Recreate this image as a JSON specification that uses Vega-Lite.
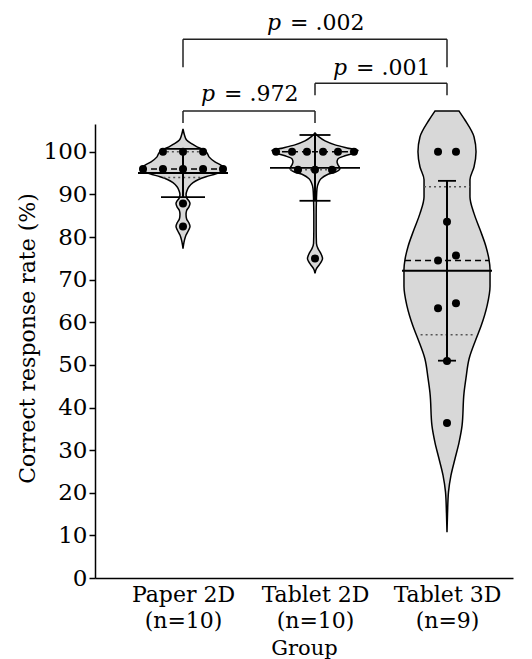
{
  "$schema": "https://vega.github.io/schema/vega-lite/v6.json",
  "width": 418,
  "height": 454,
  "autosize": {"type": "none"},
  "padding": {"left": 95, "top": 124, "right": 19, "bottom": 81},
  "background": "white",
  "config": {
    "view": {"stroke": null},
    "font": "DejaVu Serif",
    "axis": {"grid": false, "domainColor": "black", "domainWidth": 1.5, "tickColor": "black", "tickWidth": 1.5, "labelColor": "black", "titleColor": "black", "titleFontWeight": "normal", "labelFont": "DejaVu Serif", "titleFont": "DejaVu Serif"}
  },
  "datasets": {
    "violin": [
      {"grp": "Paper 2D", "v": 105.37, "lo": 0, "hi": 0},
      {"grp": "Paper 2D", "v": 103.97, "lo": -0.011, "hi": 0.011},
      {"grp": "Paper 2D", "v": 102.8, "lo": -0.027, "hi": 0.027},
      {"grp": "Paper 2D", "v": 101.87, "lo": -0.068, "hi": 0.068},
      {"grp": "Paper 2D", "v": 101.17, "lo": -0.106, "hi": 0.106},
      {"grp": "Paper 2D", "v": 100.47, "lo": -0.159, "hi": 0.159},
      {"grp": "Paper 2D", "v": 99.77, "lo": -0.182, "hi": 0.182},
      {"grp": "Paper 2D", "v": 98.83, "lo": -0.197, "hi": 0.197},
      {"grp": "Paper 2D", "v": 97.66, "lo": -0.242, "hi": 0.242},
      {"grp": "Paper 2D", "v": 96.73, "lo": -0.295, "hi": 0.295},
      {"grp": "Paper 2D", "v": 96.12, "lo": -0.318, "hi": 0.318},
      {"grp": "Paper 2D", "v": 95.56, "lo": -0.303, "hi": 0.303},
      {"grp": "Paper 2D", "v": 94.86, "lo": -0.25, "hi": 0.25},
      {"grp": "Paper 2D", "v": 94.16, "lo": -0.174, "hi": 0.174},
      {"grp": "Paper 2D", "v": 93.46, "lo": -0.114, "hi": 0.114},
      {"grp": "Paper 2D", "v": 92.76, "lo": -0.076, "hi": 0.076},
      {"grp": "Paper 2D", "v": 91.82, "lo": -0.045, "hi": 0.045},
      {"grp": "Paper 2D", "v": 90.9, "lo": -0.03, "hi": 0.03},
      {"grp": "Paper 2D", "v": 90, "lo": -0.023, "hi": 0.023},
      {"grp": "Paper 2D", "v": 89.1, "lo": -0.03, "hi": 0.03},
      {"grp": "Paper 2D", "v": 88.5, "lo": -0.045, "hi": 0.045},
      {"grp": "Paper 2D", "v": 87.9, "lo": -0.053, "hi": 0.053},
      {"grp": "Paper 2D", "v": 87.1, "lo": -0.045, "hi": 0.045},
      {"grp": "Paper 2D", "v": 86.2, "lo": -0.027, "hi": 0.027},
      {"grp": "Paper 2D", "v": 85.3, "lo": -0.023, "hi": 0.023},
      {"grp": "Paper 2D", "v": 84.3, "lo": -0.027, "hi": 0.027},
      {"grp": "Paper 2D", "v": 83.3, "lo": -0.045, "hi": 0.045},
      {"grp": "Paper 2D", "v": 82.5, "lo": -0.053, "hi": 0.053},
      {"grp": "Paper 2D", "v": 81.6, "lo": -0.042, "hi": 0.042},
      {"grp": "Paper 2D", "v": 80.5, "lo": -0.023, "hi": 0.023},
      {"grp": "Paper 2D", "v": 79.3, "lo": -0.011, "hi": 0.011},
      {"grp": "Paper 2D", "v": 78.2, "lo": -0.004, "hi": 0.004},
      {"grp": "Paper 2D", "v": 77.3, "lo": 0, "hi": 0},
      {"grp": "Tablet 2D", "v": 104.44, "lo": 1, "hi": 1},
      {"grp": "Tablet 2D", "v": 103.5, "lo": 0.97, "hi": 1.03},
      {"grp": "Tablet 2D", "v": 102.57, "lo": 0.924, "hi": 1.076},
      {"grp": "Tablet 2D", "v": 101.64, "lo": 0.848, "hi": 1.152},
      {"grp": "Tablet 2D", "v": 100.93, "lo": 0.758, "hi": 1.242},
      {"grp": "Tablet 2D", "v": 100.33, "lo": 0.674, "hi": 1.326},
      {"grp": "Tablet 2D", "v": 99.77, "lo": 0.697, "hi": 1.303},
      {"grp": "Tablet 2D", "v": 99.07, "lo": 0.773, "hi": 1.227},
      {"grp": "Tablet 2D", "v": 98.36, "lo": 0.826, "hi": 1.174},
      {"grp": "Tablet 2D", "v": 97.66, "lo": 0.833, "hi": 1.167},
      {"grp": "Tablet 2D", "v": 96.96, "lo": 0.826, "hi": 1.174},
      {"grp": "Tablet 2D", "v": 96.12, "lo": 0.811, "hi": 1.189},
      {"grp": "Tablet 2D", "v": 95.33, "lo": 0.841, "hi": 1.159},
      {"grp": "Tablet 2D", "v": 94.63, "lo": 0.909, "hi": 1.091},
      {"grp": "Tablet 2D", "v": 93.69, "lo": 0.955, "hi": 1.045},
      {"grp": "Tablet 2D", "v": 92.76, "lo": 0.973, "hi": 1.027},
      {"grp": "Tablet 2D", "v": 91.36, "lo": 0.985, "hi": 1.015},
      {"grp": "Tablet 2D", "v": 89.02, "lo": 0.989, "hi": 1.011},
      {"grp": "Tablet 2D", "v": 85.28, "lo": 0.991, "hi": 1.009},
      {"grp": "Tablet 2D", "v": 81.54, "lo": 0.991, "hi": 1.009},
      {"grp": "Tablet 2D", "v": 78.5, "lo": 0.989, "hi": 1.011},
      {"grp": "Tablet 2D", "v": 77.3, "lo": 0.977, "hi": 1.023},
      {"grp": "Tablet 2D", "v": 76.3, "lo": 0.958, "hi": 1.042},
      {"grp": "Tablet 2D", "v": 75.5, "lo": 0.947, "hi": 1.053},
      {"grp": "Tablet 2D", "v": 75, "lo": 0.943, "hi": 1.057},
      {"grp": "Tablet 2D", "v": 74.3, "lo": 0.951, "hi": 1.049},
      {"grp": "Tablet 2D", "v": 73.4, "lo": 0.97, "hi": 1.03},
      {"grp": "Tablet 2D", "v": 72.6, "lo": 0.989, "hi": 1.011},
      {"grp": "Tablet 2D", "v": 71.5, "lo": 1, "hi": 1},
      {"grp": "Tablet 3D", "v": 109.58, "lo": 1.909, "hi": 2.091},
      {"grp": "Tablet 3D", "v": 107.48, "lo": 1.864, "hi": 2.136},
      {"grp": "Tablet 3D", "v": 103.5, "lo": 1.795, "hi": 2.205},
      {"grp": "Tablet 3D", "v": 100, "lo": 1.78, "hi": 2.22},
      {"grp": "Tablet 3D", "v": 96.5, "lo": 1.795, "hi": 2.205},
      {"grp": "Tablet 3D", "v": 93.46, "lo": 1.826, "hi": 2.174},
      {"grp": "Tablet 3D", "v": 89.49, "lo": 1.826, "hi": 2.174},
      {"grp": "Tablet 3D", "v": 85.51, "lo": 1.795, "hi": 2.205},
      {"grp": "Tablet 3D", "v": 81.78, "lo": 1.75, "hi": 2.25},
      {"grp": "Tablet 3D", "v": 77.8, "lo": 1.705, "hi": 2.295},
      {"grp": "Tablet 3D", "v": 74.77, "lo": 1.682, "hi": 2.318},
      {"grp": "Tablet 3D", "v": 72.43, "lo": 1.674, "hi": 2.326},
      {"grp": "Tablet 3D", "v": 68.46, "lo": 1.674, "hi": 2.326},
      {"grp": "Tablet 3D", "v": 63.79, "lo": 1.697, "hi": 2.303},
      {"grp": "Tablet 3D", "v": 59.11, "lo": 1.742, "hi": 2.258},
      {"grp": "Tablet 3D", "v": 56.07, "lo": 1.78, "hi": 2.22},
      {"grp": "Tablet 3D", "v": 51.4, "lo": 1.833, "hi": 2.167},
      {"grp": "Tablet 3D", "v": 46.96, "lo": 1.856, "hi": 2.144},
      {"grp": "Tablet 3D", "v": 43.46, "lo": 1.871, "hi": 2.129},
      {"grp": "Tablet 3D", "v": 35.75, "lo": 1.886, "hi": 2.114},
      {"grp": "Tablet 3D", "v": 31.78, "lo": 1.909, "hi": 2.091},
      {"grp": "Tablet 3D", "v": 28.04, "lo": 1.939, "hi": 2.061},
      {"grp": "Tablet 3D", "v": 24.07, "lo": 1.97, "hi": 2.03},
      {"grp": "Tablet 3D", "v": 20.09, "lo": 1.989, "hi": 2.011},
      {"grp": "Tablet 3D", "v": 15.19, "lo": 1.996, "hi": 2.004},
      {"grp": "Tablet 3D", "v": 10.75, "lo": 2, "hi": 2}
    ],
    "points": [
      {"grp": "Paper 2D", "v": 100, "x": -0.152},
      {"grp": "Paper 2D", "v": 100, "x": 0},
      {"grp": "Paper 2D", "v": 100, "x": 0.152},
      {"grp": "Paper 2D", "v": 96, "x": -0.303},
      {"grp": "Paper 2D", "v": 96, "x": -0.152},
      {"grp": "Paper 2D", "v": 96, "x": 0},
      {"grp": "Paper 2D", "v": 96, "x": 0.152},
      {"grp": "Paper 2D", "v": 96, "x": 0.303},
      {"grp": "Paper 2D", "v": 87.9, "x": 0},
      {"grp": "Paper 2D", "v": 82.5, "x": 0},
      {"grp": "Tablet 2D", "v": 100, "x": 0.705},
      {"grp": "Tablet 2D", "v": 100, "x": 0.826},
      {"grp": "Tablet 2D", "v": 100, "x": 0.939},
      {"grp": "Tablet 2D", "v": 100, "x": 1.061},
      {"grp": "Tablet 2D", "v": 100, "x": 1.174},
      {"grp": "Tablet 2D", "v": 100, "x": 1.295},
      {"grp": "Tablet 2D", "v": 95.8, "x": 0.871},
      {"grp": "Tablet 2D", "v": 95.8, "x": 1},
      {"grp": "Tablet 2D", "v": 95.8, "x": 1.129},
      {"grp": "Tablet 2D", "v": 75, "x": 1},
      {"grp": "Tablet 3D", "v": 100, "x": 1.932},
      {"grp": "Tablet 3D", "v": 100, "x": 2.068},
      {"grp": "Tablet 3D", "v": 83.6, "x": 2},
      {"grp": "Tablet 3D", "v": 74.5, "x": 1.932},
      {"grp": "Tablet 3D", "v": 75.7, "x": 2.068},
      {"grp": "Tablet 3D", "v": 63.3, "x": 1.932},
      {"grp": "Tablet 3D", "v": 64.5, "x": 2.068},
      {"grp": "Tablet 3D", "v": 50.9, "x": 2},
      {"grp": "Tablet 3D", "v": 36.4, "x": 2}
    ],
    "summary": [
      {"grp": "Paper 2D", "gx": 0, "mean": 95.04, "sdlo": 89.4, "sdhi": 100.68},
      {"grp": "Tablet 2D", "gx": 1, "mean": 96.24, "sdlo": 88.52, "sdhi": 103.96},
      {"grp": "Tablet 3D", "gx": 2, "mean": 72.1, "sdlo": 51.0, "sdhi": 93.2}
    ],
    "quartiles": [
      {"grp": "Paper 2D", "kind": "median", "v": 96, "lo": -0.318, "hi": 0.318},
      {"grp": "Paper 2D", "kind": "quartile", "v": 100, "lo": -0.16, "hi": 0.16},
      {"grp": "Paper 2D", "kind": "quartile", "v": 94, "lo": -0.15, "hi": 0.15},
      {"grp": "Tablet 2D", "kind": "median", "v": 100, "lo": 0.674, "hi": 1.326},
      {"grp": "Tablet 2D", "kind": "quartile", "v": 95.8, "lo": 0.811, "hi": 1.189},
      {"grp": "Tablet 3D", "kind": "median", "v": 74.5, "lo": 1.682, "hi": 2.318},
      {"grp": "Tablet 3D", "kind": "quartile", "v": 91.8, "lo": 1.826, "hi": 2.174},
      {"grp": "Tablet 3D", "kind": "quartile", "v": 57.1, "lo": 1.8, "hi": 2.2}
    ],
    "brackets": [
      {"x": 0, "x2": 2, "y": 126.4, "y2": 126.4},
      {"x": 0, "x2": 0, "y": 126.4, "y2": 119.86},
      {"x": 2, "x2": 2, "y": 126.4, "y2": 119.86},
      {"x": 1, "x2": 2, "y": 116.1, "y2": 116.1},
      {"x": 1, "x2": 1, "y": 116.1, "y2": 113.3},
      {"x": 2, "x2": 2, "y": 116.1, "y2": 113.3},
      {"x": 0, "x2": 1, "y": 109.6, "y2": 109.6},
      {"x": 0, "x2": 0, "y": 109.6, "y2": 106.8},
      {"x": 1, "x2": 1, "y": 109.6, "y2": 106.8}
    ],
    "plabels": [
      {"x": 1, "y": 128.5, "p": "p", "rest": "= .002"},
      {"x": 1.5, "y": 118.0, "p": "p", "rest": "= .001"},
      {"x": 0.5, "y": 111.9, "p": "p", "rest": "= .972"}
    ]
  },
  "encoding": {
    "y": {"type": "quantitative", "scale": {"domain": [0, 106.54], "range": [454, 0], "nice": false, "zero": false},
      "axis": {"title": "Correct response rate (%)", "values": [0, 10, 20, 30, 40, 50, 60, 70, 80, 90, 100], "tickSize": 6, "labelFontSize": 23, "labelPadding": 2, "titleFontSize": 22, "titlePadding": 4, "titleY": 214}},
    "x": {"type": "quantitative", "scale": {"domain": [-0.6667, 2.5], "nice": false, "zero": false},
      "axis": {"title": "Group", "values": [0, 1, 2], "ticks": false, "labelExpr": "datum.value == 0 ? ['Paper 2D', '(n=10)'] : datum.value == 1 ? ['Tablet 2D', '(n=10)'] : ['Tablet 3D', '(n=9)']", "labelFontSize": 22, "labelLineHeight": 26, "labelPadding": 6, "labelBaseline": "top", "titleFontSize": 21, "titleBaseline": "alphabetic", "titleY": 76}}
  },
  "layer": [
    {
      "data": {"name": "violin"},
      "mark": {"type": "area", "orient": "horizontal", "interpolate": "monotone", "fill": "#d8d8d8", "stroke": "black", "strokeWidth": 1.5, "clip": false},
      "encoding": {
        "y": {"field": "v", "type": "quantitative"},
        "x": {"field": "lo", "type": "quantitative", "stack": null},
        "x2": {"field": "hi"},
        "detail": {"field": "grp"}
      }
    },
    {
      "data": {"name": "quartiles"},
      "transform": [{"filter": "datum.kind == 'quartile'"}],
      "mark": {"type": "rule", "color": "#555555", "strokeWidth": 1.5, "strokeDash": [2, 3]},
      "encoding": {
        "y": {"field": "v", "type": "quantitative"},
        "x": {"field": "lo", "type": "quantitative"},
        "x2": {"field": "hi"}
      }
    },
    {
      "data": {"name": "quartiles"},
      "transform": [{"filter": "datum.kind == 'median'"}],
      "mark": {"type": "rule", "color": "black", "strokeWidth": 1.5, "strokeDash": [6, 4]},
      "encoding": {
        "y": {"field": "v", "type": "quantitative"},
        "x": {"field": "lo", "type": "quantitative"},
        "x2": {"field": "hi"}
      }
    },
    {
      "data": {"name": "summary"},
      "mark": {"type": "rule", "color": "black", "strokeWidth": 2},
      "encoding": {
        "x": {"field": "gx", "type": "quantitative"},
        "y": {"field": "sdlo", "type": "quantitative"},
        "y2": {"field": "sdhi"}
      }
    },
    {
      "data": {"name": "summary"},
      "mark": {"type": "tick", "orient": "horizontal", "color": "black", "thickness": 1.8, "size": 90, "opacity": 1},
      "encoding": {
        "x": {"field": "gx", "type": "quantitative"},
        "y": {"field": "mean", "type": "quantitative"}
      }
    },
    {
      "data": {"name": "summary"},
      "transform": [{"fold": ["sdlo", "sdhi"], "as": ["end", "val"]}],
      "mark": {"type": "tick", "orient": "horizontal", "color": "black", "thickness": 1.8, "opacity": 1},
      "encoding": {
        "x": {"field": "gx", "type": "quantitative"},
        "y": {"field": "val", "type": "quantitative"},
        "size": {"field": "grp", "type": "nominal", "scale": {"domain": ["Paper 2D", "Tablet 2D", "Tablet 3D"], "range": [44, 18, 44]}, "legend": null}
      }
    },
    {
      "data": {"name": "points"},
      "mark": {"type": "circle", "color": "black", "size": 64, "opacity": 1},
      "encoding": {
        "x": {"field": "x", "type": "quantitative"},
        "y": {"field": "v", "type": "quantitative"}
      }
    },
    {
      "data": {"name": "brackets"},
      "mark": {"type": "rule", "color": "#222222", "strokeWidth": 1.5},
      "encoding": {
        "x": {"field": "x", "type": "quantitative"},
        "x2": {"field": "x2"},
        "y": {"field": "y", "type": "quantitative"},
        "y2": {"field": "y2"}
      }
    },
    {
      "data": {"name": "plabels"},
      "mark": {"type": "text", "align": "left", "baseline": "alphabetic", "dx": -48, "fontSize": 22, "fontStyle": "italic", "font": "DejaVu Serif", "color": "black"},
      "encoding": {
        "x": {"field": "x", "type": "quantitative"},
        "y": {"field": "y", "type": "quantitative"},
        "text": {"field": "p"}
      }
    },
    {
      "data": {"name": "plabels"},
      "mark": {"type": "text", "align": "left", "baseline": "alphabetic", "dx": -25, "fontSize": 22, "font": "DejaVu Serif", "color": "black"},
      "encoding": {
        "x": {"field": "x", "type": "quantitative"},
        "y": {"field": "y", "type": "quantitative"},
        "text": {"field": "rest"}
      }
    }
  ]
}
